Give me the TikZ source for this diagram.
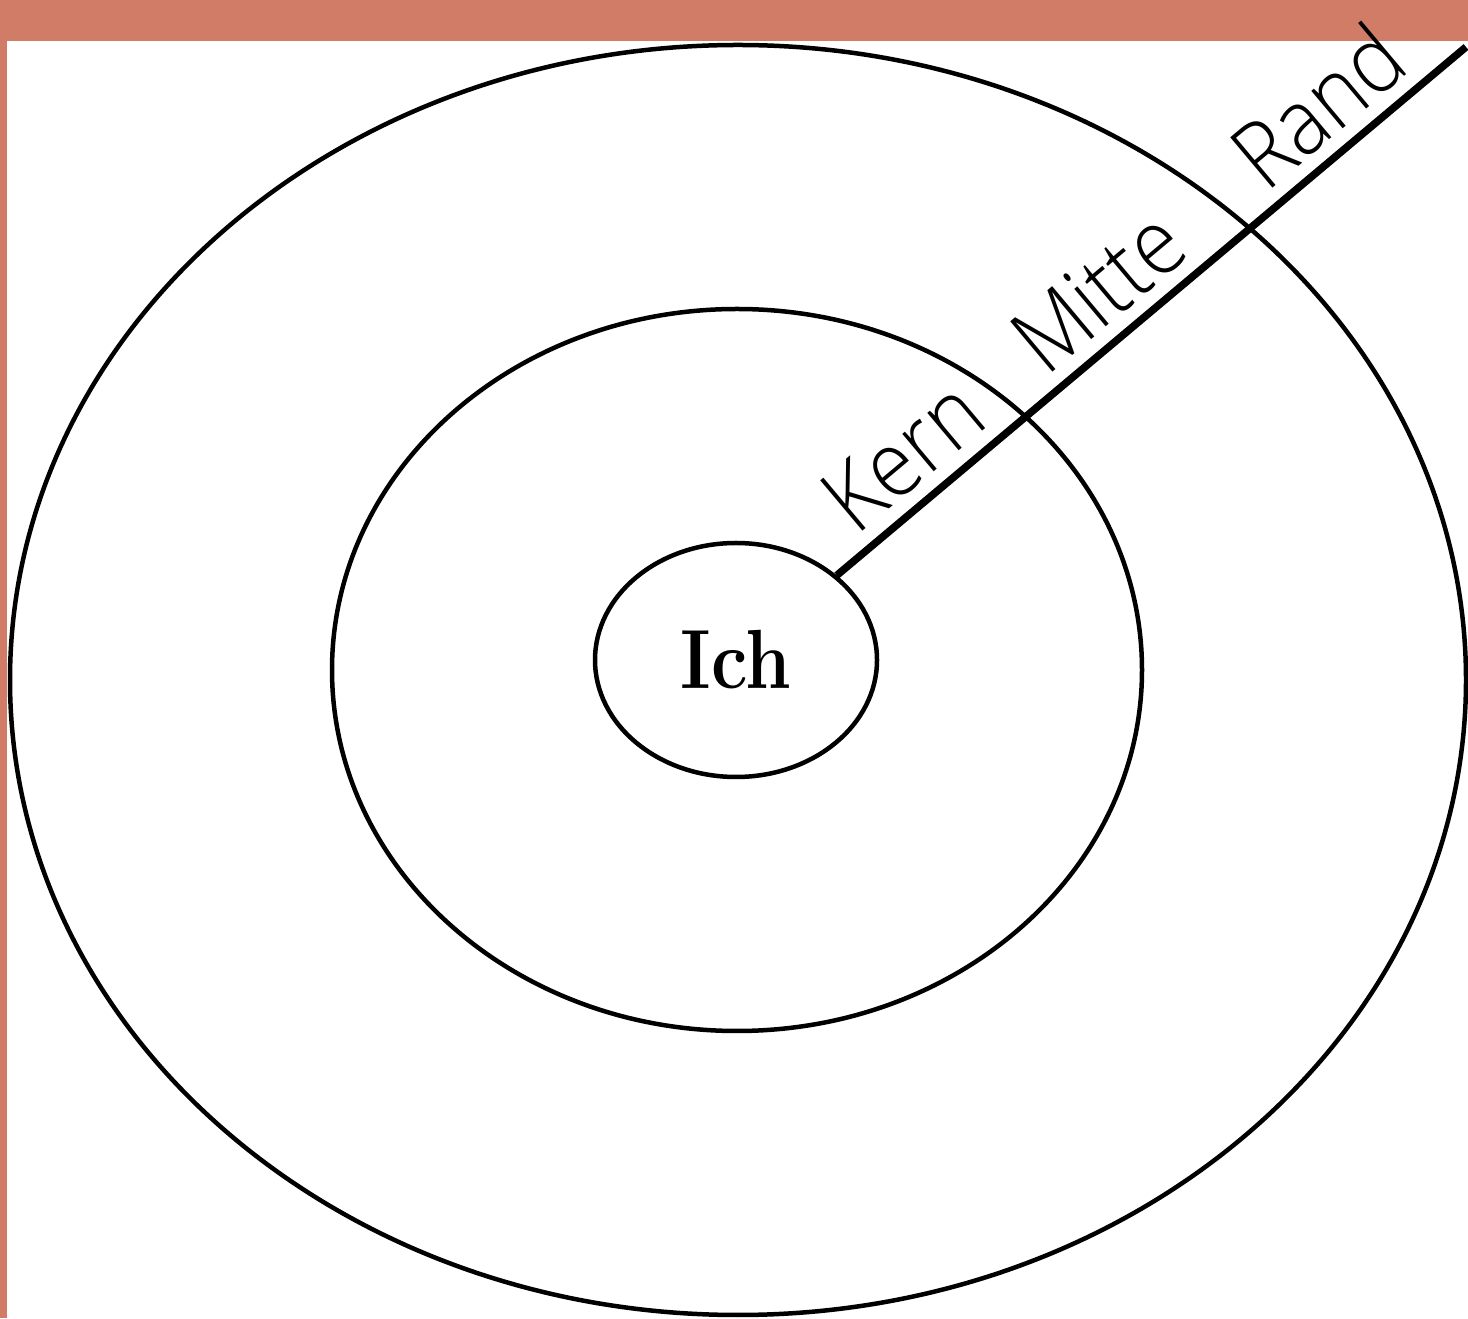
\documentclass[tikz,border=0pt]{standalone}
\usepackage{fontspec}
\usetikzlibrary{shapes.geometric,calc}
\IfFontExistsTF{Open Sans Light}{\newfontfamily\lblfont{Open Sans Light}}{\newfontfamily\lblfont{Open Sans}}
\definecolor{bandcol}{RGB}{208,124,102}
\newcommand{\narrow}[1]{\scalebox{0.9}[1]{#1}}
\begin{document}
\begin{tikzpicture}[x=1pt,y=1pt,
  ring/.style={draw=black,line width=4.5pt,ellipse,inner sep=0pt,fill=none},
  radial/.style={draw=black,line width=7.5pt},
  zonelabel/.style={anchor=base west,inner sep=0pt,rotate=40,font=\lblfont\fontsize{92}{92}\selectfont}]
\useasboundingbox (0,0) rectangle (1468,1318);
% background and coloured border
\fill[bandcol] (0,0) rectangle (1468,1318);
\fill[white] (7,0) rectangle (1468,1277);
% rings
\node[ring,minimum width=1456pt,minimum height=1270pt] (outer) at (738,638) {};
\node[ring,minimum width=810pt,minimum height=722pt] (mid) at (737,648) {};
\node[ring,minimum width=282pt,minimum height=234pt,
      font=\fontsize{84}{84}\selectfont\bfseries] (inner) at (736,658) {\scalebox{0.87}[1]{Ich}};
% radial line
\coordinate (tip) at (1466,1271);
\draw[radial] (inner) -- (tip);
% labels
\coordinate (c) at (736,658);
\node[zonelabel] (kern) at ($(c)+(40:172)+(130:17)$) {\narrow{Kern}};
\node[zonelabel] (mitte) at ($(c)+(40:419)+(130:17)$) {\narrow{Mitte}};
\node[zonelabel] (rand) at ($(c)+(40:706)+(130:17)$) {\narrow{Rand}};
\end{tikzpicture}
\end{document}
